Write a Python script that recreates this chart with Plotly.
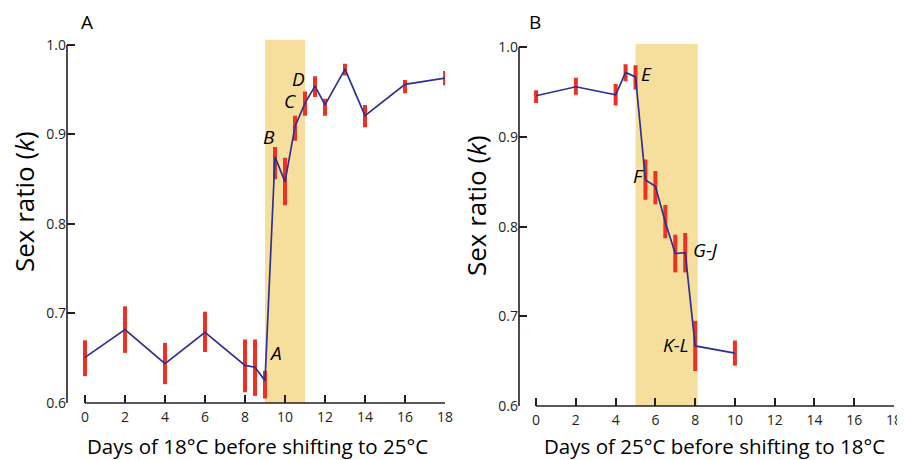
import plotly.graph_objects as go

# ---------------- data ----------------
# Panel A: days at 18°C before shifting to 25°C
days_a = [0, 2, 4, 6, 8, 8.5, 9, 9.5, 10, 10.5, 11, 11.5, 12, 13, 14, 16, 18]
ratio_a = [0.651, 0.682, 0.644, 0.679, 0.642, 0.640, 0.625, 0.875, 0.847, 0.909,
           0.935, 0.954, 0.933, 0.973, 0.921, 0.956, 0.963]
upper_a = [0.670, 0.708, 0.667, 0.702, 0.671, 0.671, 0.636, 0.886, 0.874, 0.921,
           0.948, 0.965, 0.940, 0.979, 0.933, 0.961, 0.971]
lower_a = [0.630, 0.656, 0.621, 0.657, 0.612, 0.608, 0.605, 0.850, 0.821, 0.893,
           0.921, 0.942, 0.921, 0.966, 0.908, 0.946, 0.955]
window_a = [9, 11]
labels_a = ["A", "B", "C", "D"]
label_x_a = [9.5, 9.2, 10.25, 10.65]
label_y_a = [0.656, 0.897, 0.937, 0.962]

# Panel B: days at 25°C before shifting to 18°C
days_b = [0, 2, 4, 4.5, 5, 5.5, 6, 6.5, 7, 7.5, 8, 10]
ratio_b = [0.946, 0.956, 0.947, 0.972, 0.967, 0.852, 0.845, 0.805, 0.770, 0.771, 0.667, 0.659]
upper_b = [0.952, 0.966, 0.959, 0.981, 0.980, 0.875, 0.862, 0.824, 0.791, 0.793, 0.695, 0.673]
lower_b = [0.938, 0.947, 0.935, 0.962, 0.953, 0.830, 0.825, 0.787, 0.749, 0.749, 0.639, 0.645]
window_b = [5, 8.13]
labels_b = ["E", "F", "G-J", "K-L"]
label_x_b = [5.57, 5.15, 8.53, 7.04]
label_y_b = [0.970, 0.856, 0.774, 0.668]

x_ticks = [0, 2, 4, 6, 8, 10, 12, 14, 16, 18]
y_ticks = [0.6, 0.7, 0.8, 0.9, 1.0]
y_tick_text = ["0.6", "0.7", "0.8", "0.9", "1.0"]

# ---------------- style ----------------
FONT = "Open Sans, Liberation Sans, sans-serif"
INK = "#231f20"
LINE = "#2e3192"
ERR = "#ee3124"
SHADE = "#f6df9c"
W, H = 905, 460
OFF = 8  # page body margin in the browser


def px(x):
    return (x - OFF) / W


def py(y):
    return (H - (y - OFF)) / H


XA_RANGE = [-0.9, 18]
YA_RANGE = [0.6, 1.006]
XB_RANGE = [-0.86, 18]
YB_RANGE = [0.6, 1.004]

dom_xa = [px(67), px(445)]
dom_ya = [py(403), py(39.6)]
dom_xb = [px(519), px(894)]
dom_yb = [py(406), py(43.7)]

fig = go.Figure()


def add_panel(xs, ys, up, lo, xref, yref):
    fig.add_trace(go.Scatter(
        x=xs, y=ys, mode="lines",
        line=dict(color=LINE, width=1.7),
        error_y=dict(type="data", symmetric=False,
                     array=[u - v for u, v in zip(up, ys)],
                     arrayminus=[v - l for v, l in zip(ys, lo)],
                     color=ERR, thickness=4, width=0),
        xaxis=xref, yaxis=yref, showlegend=False, hoverinfo="skip",
    ))


add_panel(days_a, ratio_a, upper_a, lower_a, "x", "y")
add_panel(days_b, ratio_b, upper_b, lower_b, "x2", "y2")

# shaded shift windows
fig.add_shape(type="rect", xref="x", yref="y", x0=window_a[0], x1=window_a[1],
              y0=YA_RANGE[0], y1=YA_RANGE[1], fillcolor=SHADE, line_width=0, layer="below")
fig.add_shape(type="rect", xref="x2", yref="y2", x0=window_b[0], x1=window_b[1],
              y0=YB_RANGE[0], y1=YB_RANGE[1], fillcolor=SHADE, line_width=0, layer="below")


def to_paper(v, rng, dom):
    return dom[0] + (v - rng[0]) / (rng[1] - rng[0]) * (dom[1] - dom[0])


# detached axis lines
for xr, yr, dx, dy in [(XA_RANGE, YA_RANGE, dom_xa, dom_ya), (XB_RANGE, YB_RANGE, dom_xb, dom_yb)]:
    fig.add_shape(type="line", xref="paper", yref="paper",
                  x0=to_paper(x_ticks[0], xr, dx), x1=to_paper(x_ticks[-1], xr, dx),
                  y0=dy[0], y1=dy[0], line=dict(color=INK, width=1.6))
    fig.add_shape(type="line", xref="paper", yref="paper",
                  x0=dx[0], x1=dx[0],
                  y0=dy[0], y1=to_paper(y_ticks[-1], yr, dy), line=dict(color=INK, width=1.6))

axis_common = dict(showgrid=False, zeroline=False, showline=False, ticks="inside",
                   ticklen=8, tickwidth=1.5, tickcolor=INK, automargin=False,
                   tickfont=dict(family=FONT, size=14, color=INK))

fig.update_layout(
    width=W, height=H, margin=dict(l=0, r=0, t=0, b=0, pad=0, autoexpand=False),
    paper_bgcolor="white", plot_bgcolor="white",
    xaxis=dict(domain=dom_xa, range=XA_RANGE, tickvals=x_ticks, anchor="y",
               ticklabelstandoff=4, **axis_common),
    yaxis=dict(domain=dom_ya, range=YA_RANGE, tickvals=y_ticks, ticktext=y_tick_text, anchor="x", **axis_common),
    xaxis2=dict(domain=dom_xb, range=XB_RANGE, tickvals=x_ticks, anchor="y2",
                ticklabelstandoff=4, **axis_common),
    yaxis2=dict(domain=dom_yb, range=YB_RANGE, tickvals=y_ticks, ticktext=y_tick_text, anchor="x2", **axis_common),
)

# point labels
for txt, lx, ly in zip(labels_a, label_x_a, label_y_a):
    fig.add_annotation(x=lx, y=ly, xref="x", yref="y", text=f"<i>{txt}</i>", showarrow=False,
                       xanchor="center", yanchor="middle",
                       font=dict(family=FONT, size=19, color="black"))
for txt, lx, ly in zip(labels_b, label_x_b, label_y_b):
    fig.add_annotation(x=lx, y=ly, xref="x2", yref="y2", text=f"<i>{txt}</i>", showarrow=False,
                       xanchor="center", yanchor="middle",
                       font=dict(family=FONT, size=19, color="black"))

# axis titles
title_font = dict(family=FONT, size=20.5, color="black")
fig.add_annotation(x=px(257.5), y=py(446), xref="paper", yref="paper",
                   xanchor="center", yanchor="middle",
                   text="Days of 18°C before shifting to 25°C", showarrow=False, font=title_font)
fig.add_annotation(x=px(714), y=py(446), xref="paper", yref="paper",
                   xanchor="center", yanchor="middle",
                   text="Days of 25°C before shifting to 18°C", showarrow=False, font=title_font)
ytitle_font = dict(family=FONT, size=26, color="black")
fig.add_annotation(x=px(24), y=py(202), xref="paper", yref="paper", textangle=-90,
                   xanchor="center", yanchor="middle", borderpad=0,
                   text="Sex ratio (<i>k</i>)", showarrow=False, font=ytitle_font)
fig.add_annotation(x=px(476), y=py(205), xref="paper", yref="paper", textangle=-90,
                   xanchor="center", yanchor="middle", borderpad=0,
                   text="Sex ratio (<i>k</i>)", showarrow=False, font=ytitle_font)

# panel letters
fig.add_annotation(x=px(87), y=py(22), xref="paper", yref="paper", text="A",
                   xanchor="center", yanchor="middle",
                   showarrow=False, font=dict(family=FONT, size=19, color="black"))
fig.add_annotation(x=px(535), y=py(22), xref="paper", yref="paper", text="B",
                   xanchor="center", yanchor="middle",
                   showarrow=False, font=dict(family=FONT, size=19, color="black"))

fig.write_html("out.html")
